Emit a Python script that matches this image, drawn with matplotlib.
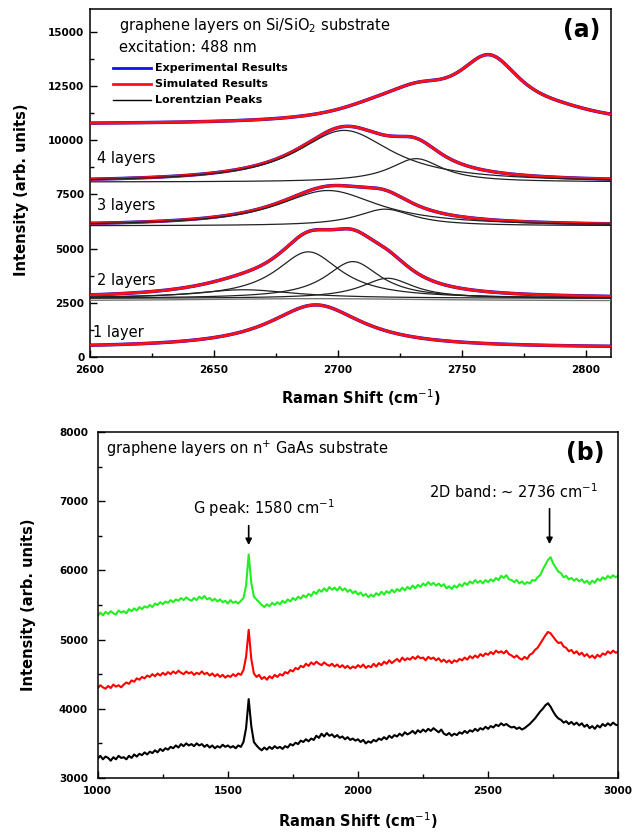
import numpy as np
import matplotlib
matplotlib.use('Agg')
import matplotlib.pyplot as plt
from matplotlib.ticker import MultipleLocator

plt.rcParams['font.family'] = ['DejaVu Sans']

# ---------------- panel (a): Lorentzian fits (centre, height, FWHM)
shift_a = np.linspace(2600, 2810, 700)

base_top = 10730
top_center = [2715, 2732, 2761, 2790]
top_height = [450, 1000, 2800, 280]
top_fwhm = [40, 34, 32, 40]

base_4 = 8070
l4_center = [2702.5, 2731.5]
l4_height = [2385, 1080]
l4_fwhm = [47, 26]

base_3 = 6050
l3_center = [2696, 2719]
l3_height = [1630, 770]
l3_fwhm = [50, 28]

base_2 = 2700
base_2_low = 2580
l2_center = [2662, 2688, 2706, 2720]
l2_height = [400, 2150, 1700, 930]
l2_fwhm = [50, 32, 27, 26]

base_1 = 420
l1_center = [2691]
l1_height = [1980]
l1_fwhm = [46]

layer_labels = ['4 layers', '3 layers', '2 layers', '1 layer']
layer_label_x = [2603, 2603, 2603, 2601]
layer_label_y = [9150, 6980, 3510, 1150]

# ---------------- panel (b): measured spectra on n+ GaAs, every 10 cm-1
shift_b = np.arange(1000, 3001, 10)

green = [
    5340, 5390, 5350, 5400, 5370, 5410, 5380, 5360, 5420, 5390,
    5410, 5380, 5440, 5410, 5450, 5420, 5470, 5440, 5480, 5460,
    5500, 5470, 5520, 5500, 5540, 5510, 5550, 5530, 5570, 5540,
    5580, 5560, 5600, 5570, 5610, 5580, 5560, 5600, 5570, 5620,
    5590, 5630, 5580, 5600, 5560, 5590, 5550, 5580, 5540, 5560,
    5520, 5570, 5530, 5550, 5520, 5560, 5600, 5780, 6230, 5820,
    5620, 5580, 5540, 5500, 5470, 5510, 5480, 5530, 5500, 5540,
    5510, 5560, 5530, 5580, 5550, 5600, 5570, 5620, 5590, 5640,
    5610, 5660, 5630, 5690, 5660, 5720, 5690, 5740, 5700, 5760,
    5720, 5750, 5710, 5760, 5710, 5740, 5690, 5720, 5670, 5700,
    5650, 5680, 5630, 5660, 5610, 5650, 5620, 5670, 5640, 5690,
    5650, 5700, 5670, 5720, 5680, 5730, 5700, 5750, 5710, 5760,
    5730, 5780, 5740, 5790, 5760, 5810, 5780, 5830, 5790, 5820,
    5780, 5810, 5770, 5800, 5740, 5770, 5730, 5780, 5750, 5800,
    5770, 5820, 5790, 5840, 5810, 5860, 5820, 5850, 5810, 5860,
    5830, 5870, 5840, 5890, 5860, 5920, 5890, 5930, 5870, 5860,
    5830, 5860, 5810, 5840, 5800, 5830, 5810, 5860, 5850, 5900,
    5930, 6010, 6080, 6150, 6190, 6100, 6040, 5980, 5960, 5900,
    5920, 5870, 5890, 5850, 5880, 5840, 5870, 5820, 5850, 5800,
    5850, 5820, 5880, 5850, 5900, 5870, 5920, 5890, 5930, 5900,
    5920]

red = [
    4300, 4340, 4310, 4290, 4330, 4300, 4350, 4320, 4340, 4310,
    4350, 4380, 4360, 4410, 4390, 4440, 4420, 4460, 4440, 4480,
    4460, 4500, 4470, 4510, 4480, 4520, 4490, 4530, 4500, 4540,
    4510, 4550, 4520, 4500, 4540, 4510, 4530, 4490, 4520, 4500,
    4540, 4500, 4520, 4480, 4510, 4470, 4500, 4460, 4490, 4450,
    4480, 4460, 4500, 4470, 4510, 4490, 4560, 4750, 5140, 4720,
    4510, 4460, 4490, 4430, 4460, 4420, 4470, 4440, 4490, 4460,
    4500, 4480, 4530, 4510, 4560, 4540, 4590, 4570, 4620, 4600,
    4650, 4620, 4670, 4640, 4680, 4650, 4630, 4670, 4640, 4620,
    4650, 4610, 4640, 4600, 4630, 4590, 4620, 4580, 4610, 4590,
    4630, 4600, 4640, 4590, 4620, 4600, 4650, 4610, 4660, 4630,
    4680, 4650, 4700, 4660, 4690, 4720, 4680, 4740, 4700, 4730,
    4710, 4750, 4720, 4760, 4730, 4740, 4700, 4750, 4720, 4740,
    4700, 4730, 4680, 4710, 4670, 4700, 4660, 4700, 4680, 4720,
    4700, 4740, 4710, 4760, 4730, 4770, 4740, 4790, 4760, 4800,
    4780, 4820, 4790, 4840, 4810, 4830, 4800, 4840, 4790, 4770,
    4740, 4770, 4730, 4710, 4750, 4720, 4780, 4800, 4850, 4880,
    4940, 5000, 5060, 5110, 5090, 5040, 4990, 4950, 4960, 4900,
    4880, 4830, 4850, 4800, 4830, 4780, 4810, 4760, 4790, 4740,
    4770, 4730, 4780, 4750, 4800, 4780, 4830, 4800, 4840, 4810,
    4820]

black = [
    3280, 3320, 3270, 3310, 3290, 3250, 3300, 3270, 3320, 3290,
    3300, 3270, 3320, 3290, 3340, 3310, 3350, 3330, 3370, 3340,
    3380, 3360, 3400, 3370, 3420, 3390, 3430, 3410, 3450, 3430,
    3470, 3440, 3490, 3460, 3500, 3470, 3490, 3460, 3500, 3470,
    3490, 3450, 3480, 3440, 3470, 3430, 3460, 3440, 3480, 3450,
    3470, 3440, 3460, 3430, 3470, 3450, 3520, 3720, 4140, 3750,
    3520, 3470, 3430, 3400, 3440, 3410, 3450, 3420, 3460, 3430,
    3450, 3420, 3460, 3440, 3490, 3470, 3510, 3490, 3540, 3520,
    3560, 3530, 3570, 3550, 3610, 3580, 3640, 3600, 3650, 3610,
    3630, 3590, 3620, 3580, 3600, 3560, 3590, 3550, 3570, 3540,
    3560, 3520, 3550, 3500, 3530, 3510, 3550, 3530, 3570, 3550,
    3590, 3560, 3610, 3580, 3620, 3600, 3640, 3610, 3660, 3630,
    3650, 3680, 3640, 3690, 3660, 3700, 3670, 3710, 3680, 3720,
    3690, 3660, 3700, 3640, 3620, 3650, 3610, 3640, 3620, 3660,
    3640, 3680, 3650, 3690, 3670, 3710, 3680, 3720, 3700, 3740,
    3710, 3750, 3730, 3770, 3750, 3790, 3760, 3780, 3750, 3730,
    3740, 3710, 3730, 3700, 3720, 3750, 3780, 3820, 3860, 3910,
    3960, 4000, 4050, 4080, 4030, 3960, 3900, 3860, 3840, 3800,
    3820, 3780, 3810, 3770, 3800, 3760, 3790, 3740, 3770, 3720,
    3750, 3710, 3760, 3730, 3780, 3750, 3790, 3760, 3800, 3770,
    3760]

g_peak = 1580
band_2d = 2736


def lorentz(x, c, h, w):
    return h / (1.0 + ((x - c) / (w / 2.0)) ** 2)


def fit_sum(centers, heights, widths):
    return sum(lorentz(shift_a, c, h, w) for c, h, w in zip(centers, heights, widths))


def style_axes(ax):
    for s in ['left', 'bottom', 'right', 'top']:
        ax.spines[s].set_linewidth(1.1)
    ax.tick_params(which='both', direction='in', top=False, right=False,
                   labelsize=7.5, width=1)
    ax.tick_params(which='major', length=5)
    ax.tick_params(which='minor', length=3)
    for lab in ax.get_xticklabels() + ax.get_yticklabels():
        lab.set_fontweight('bold')


fig = plt.figure(figsize=(6.43, 8.32), dpi=100)

# ======================= (a)
ax1 = fig.add_axes([0.140, 0.571, 0.810, 0.418])

spectra = [
    (base_top, top_center, top_height, top_fwhm, False),
    (base_4, l4_center, l4_height, l4_fwhm, True),
    (base_3, l3_center, l3_height, l3_fwhm, True),
    (base_2, l2_center, l2_height, l2_fwhm, True),
    (base_1, l1_center, l1_height, l1_fwhm, False),
]
for base, cen, hei, fw, show_peaks in spectra:
    total = base + fit_sum(cen, hei, fw)
    ax1.plot(shift_a, total, color='#1010ee', lw=2.5, zorder=2)
    ax1.plot(shift_a, total, color='#ff1010', lw=2.0, zorder=3)
    if show_peaks:
        for c, h, w in zip(cen, hei, fw):
            ax1.plot(shift_a, base + lorentz(shift_a, c, h, w), color='#222222', lw=0.9, zorder=4)

# weak broad component under the 2-layer fit
ax1.plot(shift_a, base_2_low + lorentz(shift_a, 2690, 110, 120), color='#777777', lw=1.0, zorder=4)

for lab, lx, ly in zip(layer_labels, layer_label_x, layer_label_y):
    ax1.text(lx, ly, lab, fontsize=10.5, va='center', ha='left')

ax1.text(0.056, 0.954, 'graphene layers on Si/SiO$_2$ substrate', transform=ax1.transAxes,
         fontsize=10.5, va='center')
ax1.text(0.056, 0.891, 'excitation: 488 nm', transform=ax1.transAxes, fontsize=10.5, va='center')
ax1.text(0.944, 0.94, '(a)', transform=ax1.transAxes, fontsize=17, fontweight='bold',
         ha='center', va='center')

legend_items = [('#1010ee', 2.0, 'Experimental Results'),
                ('#ff1010', 2.0, 'Simulated Results'),
                ('black', 1.0, 'Lorentzian Peaks')]
for i, (col, lw, lab) in enumerate(legend_items):
    yy = 0.830 - i * 0.046
    ax1.plot([0.044, 0.118], [yy, yy], color=col, lw=lw, transform=ax1.transAxes)
    ax1.text(0.125, yy, lab, transform=ax1.transAxes, fontsize=8, fontweight='bold', va='center')

ax1.set_xlim(2600, 2810)
ax1.set_ylim(0, 16050)
ax1.xaxis.set_major_locator(MultipleLocator(50))
ax1.xaxis.set_minor_locator(MultipleLocator(25))
ax1.yaxis.set_major_locator(MultipleLocator(2500))
ax1.yaxis.set_minor_locator(MultipleLocator(1250))
ax1.set_xlabel('Raman Shift (cm$^{-1}$)', fontsize=10.5, fontweight='bold')
ax1.set_ylabel('Intensity (arb. units)', fontsize=10.5, fontweight='bold')
ax1.xaxis.set_label_coords(0.52, -0.088)
ax1.yaxis.set_label_coords(-0.118, 0.48)
style_axes(ax1)
ax1.tick_params(axis='x', pad=6)
ax1.tick_params(axis='y', pad=4)

# ======================= (b)
ax2 = fig.add_axes([0.152, 0.0649, 0.8095, 0.416])
ax2.plot(shift_b, green, color='#22ee22', lw=1.5)
ax2.plot(shift_b, red, color='#ff0000', lw=1.5)
ax2.plot(shift_b, black, color='black', lw=1.5)

ax2.annotate('', xy=(g_peak, 6324), xytext=(g_peak, 6685),
             arrowprops=dict(arrowstyle='-|>', color='black', lw=1.2, mutation_scale=9))
ax2.annotate('', xy=(band_2d, 6338), xytext=(band_2d, 6930),
             arrowprops=dict(arrowstyle='-|>', color='black', lw=1.2, mutation_scale=9))
ax2.text(1640, 6902, 'G peak: 1580 cm$^{-1}$', fontsize=10.5, ha='center', va='center')
ax2.text(2598, 7133, '2D band: ~ 2736 cm$^{-1}$', fontsize=10.5, ha='center', va='center')
ax2.text(0.016, 0.951, 'graphene layers on n$^{+}$ GaAs substrate', transform=ax2.transAxes,
         fontsize=10.5, va='center')
ax2.text(0.937, 0.939, '(b)', transform=ax2.transAxes, fontsize=17, fontweight='bold',
         ha='center', va='center')

ax2.set_xlim(1000, 3000)
ax2.set_ylim(3000, 8000)
ax2.xaxis.set_major_locator(MultipleLocator(500))
ax2.xaxis.set_minor_locator(MultipleLocator(250))
ax2.yaxis.set_major_locator(MultipleLocator(1000))
ax2.yaxis.set_minor_locator(MultipleLocator(500))
ax2.set_xlabel('Raman Shift (cm$^{-1}$)', fontsize=10.5, fontweight='bold')
ax2.set_ylabel('Intensity (arb. units)', fontsize=10.5, fontweight='bold')
ax2.xaxis.set_label_coords(0.5, -0.094)
ax2.yaxis.set_label_coords(-0.118, 0.5)
style_axes(ax2)
ax2.tick_params(axis='x', pad=6)
ax2.tick_params(axis='y', pad=7)

fig.savefig('out.png', dpi=100)
